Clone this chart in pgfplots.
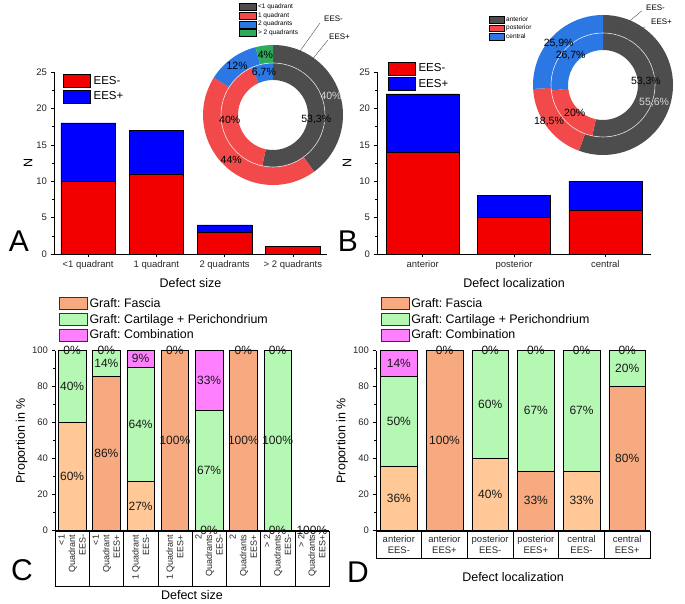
\documentclass[border=0pt]{standalone}
\usepackage{fontspec}
\setmainfont{Liberation Sans}
\usepackage{pgfplots}
\pgfplotsset{compat=1.18}
\usetikzlibrary{arrows.meta}
\frenchspacing

\definecolor{eesm}{HTML}{F20000}
\definecolor{eesp}{HTML}{0000FF}
\definecolor{fasm}{HTML}{FFC896}
\definecolor{fasp}{HTML}{F7AA80}
\definecolor{cart}{HTML}{B4F8B4}
\definecolor{comb}{HTML}{FF80FF}
\definecolor{dg}{HTML}{4D4D4D}
\definecolor{dr}{HTML}{F24A4A}
\definecolor{db}{HTML}{2B78E4}
\definecolor{dgr}{HTML}{2EAA5C}

\newcommand{\fsz}[2]{\fontsize{#1bp}{#2bp}\selectfont}

% donut segment: from cumulative pct #1 to #2, radii #3 (inner) #4 (outer), colour #5
\newcommand{\seg}[5]{\fill[#5] ([shift={({90-3.6*(#1)}:#4bp)}]axis cs:0,0) arc[start angle={90-3.6*(#1)}, end angle={90-3.6*(#2)}, radius=#4bp] -- ([shift={({90-3.6*(#2)}:#3bp)}]axis cs:0,0) arc[start angle={90-3.6*(#2)}, end angle={90-3.6*(#1)}, radius=#3bp] -- cycle;}
% donut label: mid of #1..#2 at radius #3, text #4, colour #5
\newcommand{\seglab}[5]{\node[font=\fsz{10.5}{12}, text=#5, inner sep=0pt] at ([shift={({90-1.8*((#1)+(#2))}:#3bp)}]axis cs:0,0) {#4};}
% donut label at explicit angle #1, radius #2
\newcommand{\anglab}[4]{\node[font=\fsz{10.5}{12}, text=#4, inner sep=0pt] at ([shift={(#1:#2bp)}]axis cs:0,0) {#3};}

\pgfplotsset{
  base/.style={scale only axis, anchor=south west,
    /pgf/number format/assume math mode=true,
    ticklabel style={font=\fsz{9.5}{11}, text=black!85},
    tick style={black, line width=0.5bp},
    axis line style={black, line width=0.6bp, -},
    tick align=outside, major tick length=3.5bp, minor tick length=2bp,
    label style={font=\fsz{12.5}{14}},
    enlargelimits=false,
    axis x line*=bottom, axis y line*=left},
  barAB/.style={base, ybar stacked, bar width=0.8, ymin=0, ymax=25,
    ytick={0,5,10,15,20,25}, minor y tick num=1,
    legend style={anchor=north west, draw=none, fill=none, font=\fsz{11.5}{12},
      row sep=2bp, inner sep=0pt, nodes={inner xsep=3bp, inner ysep=1bp}},
    legend cell align=left},
  boxAB/.style={draw=black, line width=0.5bp,
    legend image code/.code={\draw[##1, draw=black, line width=0.4bp] (0bp,-6.5bp) rectangle (27bp,6.5bp);}},
  barCD/.style={base, ybar stacked, bar width=0.8, ymin=0, ymax=100,
    ytick={0,20,40,60,80,100}, minor y tick num=1,
    xtick style={draw=none}, xtick align=inside},
  boxCD/.style={legend image code/.code={\draw[##1, draw=black!80, line width=0.4bp] (0bp,-6bp) rectangle (28bp,6bp);}},
  lab/.style={scale only axis, anchor=south west, hide axis, clip=false, ymin=0, ymax=100,
    legend style={anchor=north west, draw=none, fill=none, font=\fsz{12.4}{13},
      row sep=3.5bp, inner sep=0pt, nodes={inner xsep=2bp, inner ysep=0.5bp}},
    legend cell align=left},
  labplot/.style={only marks, mark=*, mark size=0.1pt,
    mark options={opacity=0, draw opacity=0, fill opacity=0},
    scatter/use mapped color={draw opacity=0, fill opacity=0},
    nodes near coords={\pgfplotspointmeta\%}, point meta=explicit symbolic,
    nodes near coords align=center,
    every node near coord/.append style={font=\fsz{12}{13}, text=black!90, inner sep=0pt, text opacity=1, opacity=1}},
  donut/.style={scale only axis, anchor=south west, width=140bp, height=140bp,
    xmin=-70, xmax=70, ymin=-70, ymax=70, hide axis, clip=false,
    legend style={anchor=north west, draw=none, fill=none, font=\fsz{6.5}{7},
      row sep=1.3bp, inner sep=0pt, nodes={inner xsep=1.5bp, inner ysep=0.5bp}},
    legend cell align=left},
}

\begin{document}
\begin{tikzpicture}[x=1bp,y=1bp]
\useasboundingbox (0,0) rectangle (685,604);

% ---------------- Panel A ----------------
\begin{axis}[barAB, at={(54bp,350bp)}, width=273bp, height=182bp,
  xmin=-0.5, xmax=3.5, xtick={0,1,2,3},
  xticklabels={<1 quadrant,1 quadrant,2 quadrants,> 2 quadrants},
  xlabel={Defect size}, ylabel={N},
  xlabel style={at={(axis description cs:0.5,-0.16)}, anchor=center},
  ylabel style={at={(axis description cs:-0.095,0.5)}, anchor=center},
  legend style={at={(axis description cs:0.033,0.989)}}]
\addplot[boxAB, fill=eesm] coordinates {(0,10) (1,11) (2,3) (3,1)};
\addlegendentry{EES-}
\addplot[boxAB, fill=eesp] coordinates {(0,8) (1,6) (2,1) (3,0)};
\addlegendentry{EES+}
\end{axis}

% donut A (outer EES-, inner EES+)
\begin{axis}[donut, at={(203bp,419bp)},
  legend style={at={(axis description cs:0.257,1.3)}},
  legend image code/.code={\fill[#1] (0bp,-3.5bp) rectangle (17bp,3.5bp);}]
\addlegendimage{fill=dg}\addlegendentry{<1 quadrant}
\addlegendimage{fill=dr}\addlegendentry{1 quadrant}
\addlegendimage{fill=db}\addlegendentry{2 quadrants}
\addlegendimage{fill=dgr}\addlegendentry{> 2 quadrants}
\seg{0}{40}{52}{70}{dg}
\seg{40}{84}{52}{70}{dr}
\seg{84}{96}{52}{70}{db}
\seg{96}{100}{52}{70}{dgr}
\seg{0}{53.3}{35}{52}{dg}
\seg{53.3}{93.3}{35}{52}{dr}
\seg{93.3}{100}{35}{52}{db}
\draw[white, line width=0.6bp, opacity=0.8] (axis cs:0,0) circle[radius=52bp];
\seglab{0}{40}{61}{40\%}{white!85!black}
\seglab{40}{84}{61}{44\%}{black}
\seglab{84}{96}{61}{12\%}{black}
\seglab{96}{100}{61}{4\%}{black}
\seglab{0}{53.3}{43.5}{53,3\%}{black}
\seglab{53.3}{93.3}{43.5}{40\%}{black}
\seglab{93.3}{100}{43.5}{6,7\%}{black}
\end{axis}

% ---------------- Panel B ----------------
\begin{axis}[barAB, at={(377bp,350bp)}, width=274bp, height=182bp,
  xmin=-0.5, xmax=2.5, xtick={0,1,2},
  xticklabels={anterior,posterior,central},
  xlabel={Defect localization}, ylabel={N},
  xlabel style={at={(axis description cs:0.5,-0.16)}, anchor=center},
  ylabel style={at={(axis description cs:-0.109,0.5)}, anchor=center},
  legend style={at={(axis description cs:0.040,1.057)}}]
\addplot[boxAB, fill=eesm] coordinates {(0,14) (1,5) (2,6)};
\addlegendentry{EES-}
\addplot[boxAB, fill=eesp] coordinates {(0,8) (1,3) (2,4)};
\addlegendentry{EES+}
\end{axis}

% donut B
\begin{axis}[donut, at={(533bp,449bp)},
  legend style={at={(axis description cs:-0.314,0.993)}},
  legend image code/.code={\fill[#1] (0bp,-3.25bp) rectangle (15bp,3.25bp);}]
\addlegendimage{fill=dg}\addlegendentry{anterior}
\addlegendimage{fill=dr}\addlegendentry{posterior}
\addlegendimage{fill=db}\addlegendentry{central}
\seg{0}{55.6}{52}{70}{dg}
\seg{55.6}{74.1}{52}{70}{dr}
\seg{74.1}{100}{52}{70}{db}
\seg{0}{53.3}{35}{52}{dg}
\seg{53.3}{73.3}{35}{52}{dr}
\seg{73.3}{100}{35}{52}{db}
\draw[white, line width=0.6bp, opacity=0.8] (axis cs:0,0) circle[radius=52bp];
\anglab{-19}{54}{55,6\%}{white!85!black}
\anglab{-145.6}{65.5}{18,5\%}{black}
\seglab{74.1}{100}{61}{25,9\%}{black}
\anglab{4}{43}{53,3\%}{black}
\anglab{-135}{40}{20\%}{black}
\seglab{73.3}{100}{43.5}{26,7\%}{black}
\end{axis}

% EES annotations
\draw[line width=0.4bp, black!70, -{Stealth[length=3bp,width=2.4bp]}] (320,581) -- (293,543);
\draw[line width=0.4bp, black!70, -{Stealth[length=3bp,width=2.4bp]}] (328,564) -- (298,527);
\node[anchor=west, font=\fsz{8}{9}, inner sep=0pt] at (324,585) {EES-};
\node[anchor=west, font=\fsz{8}{9}, inner sep=0pt] at (329,567) {EES+};
\draw[line width=0.4bp, black!70, -{Stealth[length=3bp,width=2.4bp]}] (642,593.3) -- (618,573.3);
\draw[line width=0.4bp, black!70, -{Stealth[length=3bp,width=2.4bp]}] (645,577.3) -- (622,559);
\node[anchor=west, font=\fsz{8}{9}, inner sep=0pt] at (646,596.7) {EES-};
\node[anchor=west, font=\fsz{8}{9}, inner sep=0pt] at (651,582) {EES+};

% ---------------- Panel C ----------------
\begin{axis}[barCD, at={(55bp,73.3bp)}, width=274bp, height=180bp,
  xmin=-0.5, xmax=7.5, xtick={0,1,2,3,4,5,6,7},
  xticklabels={{<1\\Quadrant\\EES-},{<1\\Quadrant\\EES+},{1 Quadrant\\EES-},{1 Quadrant\\EES+},{2\\Quadrants\\EES-},{2\\Quadrants\\EES+},{> 2\\Quadrants\\EES-},{> 2\\Quadrants\\EES+}},
  xticklabel style={rotate=90, anchor=east, draw=black, line width=0.5bp,
    minimum width=55bp, minimum height=34.25bp, text width=47bp, align=flush right,
    inner xsep=4bp, inner ysep=0pt, font=\fsz{9}{10.5}},
  xlabel={Defect size}, ylabel={Proportion in \%},
  xlabel style={at={(axis description cs:0.5,-0.357)}, anchor=center},
  ylabel style={at={(axis description cs:-0.1215,0.5)}, anchor=center}]
\addplot[fill=fasm, draw=black, line width=0.5bp] coordinates {(0,60) (1,0) (2,27.3) (3,0) (4,0) (5,0) (6,0) (7,0)};
\addplot[fill=fasp, draw=black, line width=0.5bp] coordinates {(0,0) (1,85.7) (2,0) (3,100) (4,0) (5,100) (6,0) (7,0)};
\addplot[fill=cart, draw=black, line width=0.5bp] coordinates {(0,40) (1,14.3) (2,63.6) (3,0) (4,66.7) (5,0) (6,100) (7,0)};
\addplot[fill=comb, draw=black, line width=0.5bp] coordinates {(0,0) (1,0) (2,9.1) (3,0) (4,33.3) (5,0) (6,0) (7,0)};
\end{axis}
\begin{axis}[lab, at={(55bp,73.3bp)}, width=274bp, height=180bp, xmin=-0.5, xmax=7.5,
  legend style={at={(axis description cs:0.0146,1.298)}}]
\addlegendimage{boxCD, fill=fasp}\addlegendentry{Graft: Fascia}
\addlegendimage{boxCD, fill=cart}\addlegendentry{Graft: Cartilage + Perichondrium}
\addlegendimage{boxCD, fill=comb}\addlegendentry{Graft: Combination}
\addplot[labplot] table[meta=lab] {
x y lab
0 30 60
0 80 40
0 100 0
1 42.9 86
1 92.9 14
1 100 0
2 13.6 27
2 59.1 64
2 95.5 9
3 50 100
3 100 0
4 0 0
4 33.3 67
4 83.3 33
5 50 100
5 100 0
6 0 0
6 50 100
6 100 0
7 0 100
};
\end{axis}

% ---------------- Panel D ----------------
\begin{axis}[barCD, at={(376bp,73.3bp)}, width=274bp, height=180bp,
  xmin=-0.5, xmax=5.5, xtick={0,1,2,3,4,5},
  xticklabels={{anterior\\EES-},{anterior\\EES+},{posterior\\EES-},{posterior\\EES+},{central\\EES-},{central\\EES+}},
  xticklabel style={anchor=north, draw=black, line width=0.5bp,
    minimum width=45.67bp, minimum height=27.6bp, align=center,
    inner sep=0pt, font=\fsz{9.5}{11.5}},
  xlabel={Defect localization}, ylabel={Proportion in \%},
  xlabel style={at={(axis description cs:0.5,-0.256)}, anchor=center},
  ylabel style={at={(axis description cs:-0.124,0.5)}, anchor=center}]
\addplot[fill=fasm, draw=black, line width=0.5bp] coordinates {(0,35.7) (1,0) (2,40) (3,0) (4,33.3) (5,0)};
\addplot[fill=fasp, draw=black, line width=0.5bp] coordinates {(0,0) (1,100) (2,0) (3,33.3) (4,0) (5,80)};
\addplot[fill=cart, draw=black, line width=0.5bp] coordinates {(0,50) (1,0) (2,60) (3,66.7) (4,66.7) (5,20)};
\addplot[fill=comb, draw=black, line width=0.5bp] coordinates {(0,14.3) (1,0) (2,0) (3,0) (4,0) (5,0)};
\end{axis}
\begin{axis}[lab, at={(376bp,73.3bp)}, width=274bp, height=180bp, xmin=-0.5, xmax=5.5,
  legend style={at={(axis description cs:0.017,1.298)}}]
\addlegendimage{boxCD, fill=fasp}\addlegendentry{Graft: Fascia}
\addlegendimage{boxCD, fill=cart}\addlegendentry{Graft: Cartilage + Perichondrium}
\addlegendimage{boxCD, fill=comb}\addlegendentry{Graft: Combination}
\addplot[labplot] table[meta=lab] {
x y lab
0 17.9 36
0 60.7 50
0 92.9 14
1 50 100
1 100 0
2 20 40
2 70 60
2 100 0
3 16.7 33
3 66.7 67
3 100 0
4 16.7 33
4 66.7 67
4 100 0
5 40 80
5 90 20
5 100 0
};
\end{axis}

% panel letters
\node[font=\fsz{30}{32}] at (19,363) {A};
\node[font=\fsz{30}{32}] at (348,363) {B};
\node[font=\fsz{30}{32}] at (22,34) {C};
\node[font=\fsz{30}{32}] at (358,32) {D};
\end{tikzpicture}
\end{document}
